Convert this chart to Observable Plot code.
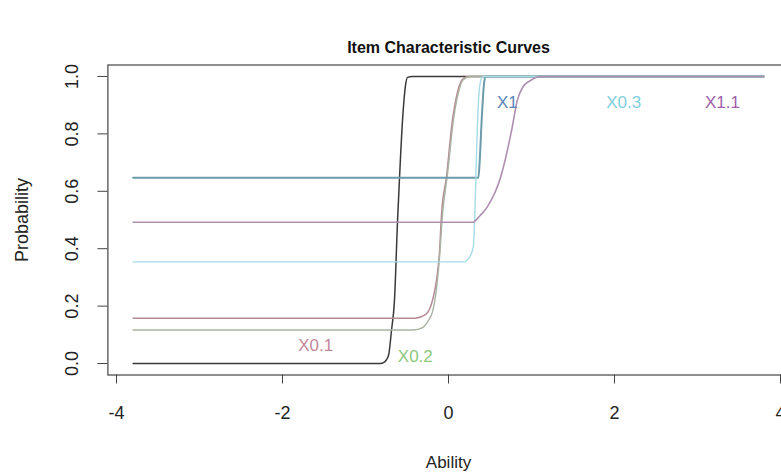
<!DOCTYPE html>
<html>
<head>
<meta charset="utf-8">
<script src="https://cdn.jsdelivr.net/npm/d3@7"></script>
<script src="https://cdn.jsdelivr.net/npm/@observablehq/plot@0.6"></script>
<style>
  html, body { margin: 0; padding: 0; background: #fff; overflow: hidden; }
  #chart svg { display: block; }
</style>
</head>
<body>
<div id="chart"></div>
<script>
// ---- data ----
const chartTitle = "Item Characteristic Curves";
const xLabel = "Ability";
const yLabel = "Probability";
const xTicks = [-4, -2, 0, 2, 4];
const yTicks = [0, 0.2, 0.4, 0.6, 0.8, 1.0];

const itemNames = ["X0", "X0.1", "X0.2", "X1", "X0.3", "X1.1"];

const abilityX0  = [-3.8, -0.82, -0.783, -0.723, -0.687, -0.651, -0.614, -0.590, -0.554, -0.518, -0.494, -0.434, 3.8];
const probX0     = [0, 0, 0.003, 0.028, 0.115, 0.22, 0.497, 0.648, 0.847, 0.969, 0.997, 1.0, 1.0];

const abilityX01 = [-3.8, -0.40, -0.277, -0.193, -0.145, -0.108, -0.084, -0.024, 0.048, 0.096, 0.169, 0.241, 3.8];
const probX01    = [0.158, 0.158, 0.17, 0.22, 0.29, 0.39, 0.52, 0.65, 0.85, 0.93, 0.99, 1.0, 1.0];

const abilityX02 = [-3.8, -0.42, -0.313, -0.241, -0.193, -0.145, -0.108, -0.072, -0.012, 0.06, 0.108, 0.18, 0.265, 3.8];
const probX02    = [0.117, 0.117, 0.125, 0.15, 0.18, 0.26, 0.37, 0.52, 0.66, 0.85, 0.93, 0.99, 1.0, 1.0];

const abilityX1  = [-3.8, 0.36, 0.375, 0.40, 0.43, 0.446, 3.8];
const probX1     = [0.647, 0.647, 0.70, 0.85, 0.98, 1.0, 1.0];

const abilityX03 = [-3.8, 0.193, 0.22, 0.265, 0.30, 0.315, 0.33, 0.345, 0.37, 0.40, 0.43, 3.8];
const probX03    = [0.354, 0.354, 0.36, 0.376, 0.41, 0.50, 0.65, 0.80, 0.95, 0.995, 1.0, 1.0];

const abilityX11 = [-3.8, 0.30, 0.325, 0.38, 0.466, 0.627, 0.767, 0.828, 0.90, 0.988, 1.108, 3.8];
const probX11    = [0.492, 0.492, 0.498, 0.515, 0.545, 0.648, 0.822, 0.916, 0.965, 0.986, 1.0, 1.0];

// item labels drawn inside the plot (the first item's label lies outside the cropped picture)
const labelItems = ["X0.1", "X0.2", "X1", "X0.3", "X1.1"];
const labelAbility = [-1.60, -0.40, 0.71, 2.11, 3.30];
const labelProb = [0.063, 0.026, 0.91, 0.91, 0.91];

// ---- styles ----
const curveColors = {
  "X0": "#3a3a3a", "X0.1": "#b48a94", "X0.2": "#aab3a2",
  "X1": "#6c9cab", "X0.3": "#a6dce6", "X1.1": "#ae8fb0"
};
const curveWidths = { "X0": 1.5, "X0.1": 1.5, "X0.2": 1.4, "X1": 2, "X0.3": 1.4, "X1.1": 1.6 };
const labelColors = {
  "X0.1": "#c4879a", "X0.2": "#8cc97c", "X1": "#5a86b5", "X0.3": "#7fd0dc", "X1.1": "#a05fa8"
};

const seriesX = [abilityX0, abilityX01, abilityX02, abilityX1, abilityX03, abilityX11];
const seriesY = [probX0, probX01, probX02, probX1, probX03, probX11];

const curveMarks = itemNames.map((name, i) => {
  const rows = seriesX[i].map((a, j) => ({ability: a, prob: seriesY[i][j]}));
  return Plot.line(rows, {
    x: "ability", y: "prob", curve: "monotone-x",
    stroke: curveColors[name], strokeWidth: curveWidths[name]
  });
});

const labelMarks = labelItems.map((name, i) => Plot.text([{a: labelAbility[i], p: labelProb[i], t: name}], {
  x: "a", y: "p", text: "t", fill: labelColors[name], fontSize: 17
}));

const textColor = "#222";
const fs = 18;
const centered = { textAnchor: "middle", lineAnchor: "middle" };

const chart = Plot.plot({
  width: 781,
  height: 474,
  marginLeft: 107.4,
  marginRight: -7.6,
  marginTop: 64.5,
  marginBottom: 99.5,
  style: { fontFamily: "'Liberation Sans', Arial, Helvetica, sans-serif", background: "#fff", overflow: "hidden" },
  x: { domain: [-4.104, 4.104] },
  y: { domain: [-0.04, 1.04] },
  marks: [
    ...curveMarks,
    ...labelMarks,
    Plot.frame({ stroke: "#444", strokeWidth: 1.2 }),
    Plot.axisX({ ticks: xTicks, tickSize: 9, tickFormat: () => "", label: null, stroke: "#444" }),
    Plot.axisY({ ticks: yTicks, tickSize: 10, tickFormat: () => "", label: null, stroke: "#444" }),
    Plot.text(xTicks, { x: d => d, frameAnchor: "bottom", dy: 38.5, text: d => String(d), fontSize: fs, fill: textColor, ...centered }),
    Plot.text(yTicks, { y: d => d, frameAnchor: "left", dx: -35.4, rotate: -90, text: d => d.toFixed(1), fontSize: fs, fill: textColor, ...centered }),
    Plot.text([yLabel], { frameAnchor: "left", dx: -85.4, rotate: -90, text: d => d, fontSize: 18, fill: textColor, ...centered }),
    Plot.text([xLabel], { frameAnchor: "bottom", dy: 87.5, text: d => d, fontSize: 17, fill: textColor, ...centered }),
    Plot.text([chartTitle], { frameAnchor: "top", dy: -17.5, text: d => d, fontSize: 16, fontWeight: "bold", fill: "#111", ...centered })
  ]
});

document.getElementById("chart").appendChild(chart);
</script>
</body>
</html>
